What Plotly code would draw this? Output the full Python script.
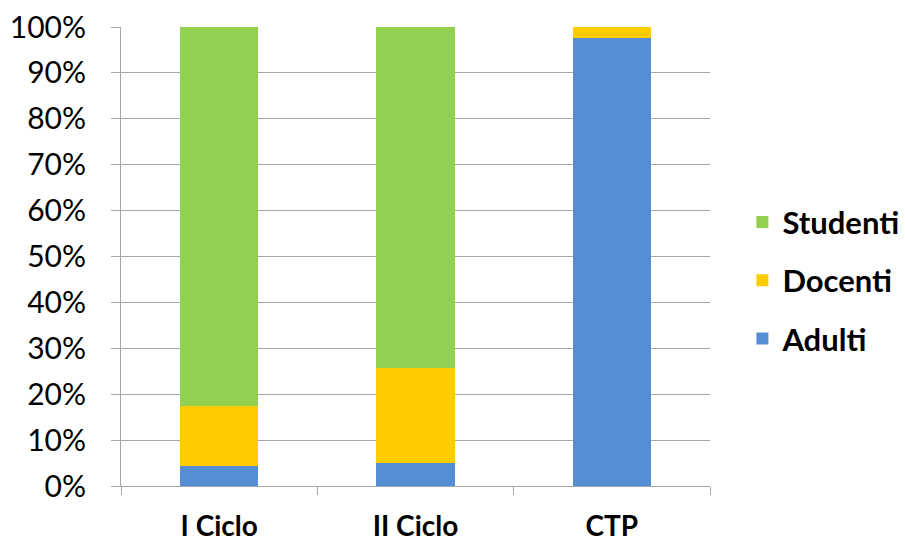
import plotly.graph_objects as go

categories = ["I Ciclo", "II Ciclo", "CTP"]
adulti = [4.4, 5.0, 97.5]
docenti = [13.0, 20.7, 2.5]
studenti = [82.6, 74.3, 0.0]

series = [
    ("Adulti", adulti, "#558ED5", 3),
    ("Docenti", docenti, "#FFCC00", 2),
    ("Studenti", studenti, "#92D050", 1),
]

fig = go.Figure()
for name, vals, color, rank in series:
    fig.add_trace(go.Bar(
        x=categories, y=[v / 100 for v in vals], name=name,
        legendgroup=name, legendrank=rank,
        marker=dict(color=color, line=dict(width=0)),
    ))

font_family = "Lato, 'Open Sans', sans-serif"
fig.update_layout(
    barmode="stack",
    bargap=0.6,
    width=905, height=543,
    margin=dict(l=121, r=195, t=27, b=57, autoexpand=False),
    paper_bgcolor="white", plot_bgcolor="white",
    font=dict(family=font_family, size=30, color="black"),
    showlegend=True,
    legend=dict(
        x=1.055, y=0.448, xanchor="left", yanchor="middle",
        traceorder="grouped", tracegroupgap=15,
        font=dict(size=31, color="black", family=font_family, weight="bold"),
        itemwidth=30,
    ),
)
fig.update_yaxes(
    range=[0, 1], dtick=0.1, tickformat=".0%",
    showgrid=True, gridcolor="#A6A6A6", gridwidth=1,
    showline=True, linecolor="#A6A6A6", linewidth=1,
    ticks="outside", ticklen=9, tickcolor="#A6A6A6",
    tickfont=dict(size=30),
    ticklabelstandoff=19,
    zeroline=False, automargin=False,
)
fig.update_xaxes(
    showline=True, linecolor="#A6A6A6", linewidth=1,
    ticks="outside", ticklen=8, tickcolor="#A6A6A6",
    tickson="boundaries",
    tickfont=dict(size=28, weight="bold"),
    ticklabelstandoff=15,
    automargin=False,
)
fig.write_html(
    "out.html",
    config={"displayModeBar": False},
    post_script="document.body.style.margin='0';document.body.style.overflow='hidden';",
)
